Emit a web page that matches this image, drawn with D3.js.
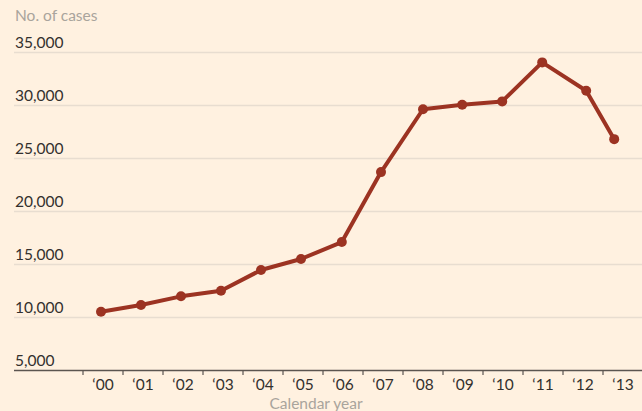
<!DOCTYPE html>
<html>
<head>
<meta charset="utf-8">
<script src="https://cdn.jsdelivr.net/npm/d3@7"></script>
<style>
  html, body { margin: 0; padding: 0; background: #fff1e0; }
  svg { display: block; font-family: Lato, "Open Sans", sans-serif; }
</style>
</head>
<body>
<svg id="chart" width="642" height="411"></svg>
<script>
// 案件數（按年份，最後兩點位置不在年中）
const years = [2000, 2001, 2002, 2003, 2004, 2005, 2006, 2007, 2008, 2009, 2010, 2011, 2012, 2013];
const yearLabels = ["‘00", "‘01", "‘02", "‘03", "‘04", "‘05", "‘06", "‘07", "‘08", "‘09", "‘10", "‘11", "‘12", "‘13"];
const pointDates = [2000.45, 2001.45, 2002.45, 2003.45, 2004.45, 2005.45, 2006.47, 2007.45, 2008.5, 2009.48, 2010.48, 2011.48, 2012.58, 2013.28];
const cases = [10500, 11130, 11950, 12480, 14430, 15470, 17070, 23670, 29600, 30020, 30340, 34020, 31340, 26780];
const yTicks = [5000, 10000, 15000, 20000, 25000, 30000, 35000];

const svg = d3.select('#chart');
const W = 642;
const left = 14, plotTop = 52, baseY = 370;
const fs = 15.5;

const x = d3.scaleLinear().domain([2000, 2014]).range([83, 643]);
const y = d3.scaleLinear().domain([5000, 35000]).range([baseY, plotTop]);

// 格線 + 左側數字
const grid = svg.append('g');
grid.selectAll('line').data(yTicks.filter((d) => d > 5000)).join('line')
  .attr('x1', left).attr('x2', W)
  .attr('y1', (d) => y(d) + 0.5).attr('y2', (d) => y(d) + 0.5)
  .attr('stroke', '#e8ddd0').attr('stroke-width', 1.5);
grid.selectAll('text').data(yTicks).join('text')
  .attr('x', 15).attr('y', (d) => y(d) - 4)
  .attr('fill', '#33302e').attr('font-size', fs)
  .text((d) => d3.format(',')(d));

// x 軸
const xAxis = svg.append('g').attr('transform', `translate(0,${baseY})`);
xAxis.append('line').attr('x1', left).attr('x2', W).attr('y1', 0.5).attr('y2', 0.5)
  .attr('stroke', '#5b5550').attr('stroke-width', 1.5);
xAxis.selectAll('line.tick').data(years.concat([2014])).join('line')
  .attr('class', 'tick')
  .attr('x1', (d) => x(d)).attr('x2', (d) => x(d))
  .attr('y1', 0).attr('y2', 5)
  .attr('stroke', '#5b5550').attr('stroke-width', 1.2);
xAxis.selectAll('text').data(years).join('text')
  .attr('x', (d) => x(d + 0.5)).attr('y', 20)
  .attr('text-anchor', 'middle').attr('fill', '#33302e').attr('font-size', fs)
  .text((d, i) => yearLabels[i]);

// 標題
svg.append('text').attr('x', 15).attr('y', 21)
  .attr('fill', '#a9a49c').attr('font-size', fs).text('No. of cases');
svg.append('text').attr('x', 316).attr('y', 409).attr('text-anchor', 'middle')
  .attr('fill', '#a9a49c').attr('font-size', fs).text('Calendar year');

// 折線 + 點
const pts = pointDates.map((d, i) => [d, cases[i]]);
svg.append('path').datum(pts)
  .attr('d', d3.line().x((d) => x(d[0])).y((d) => y(d[1])))
  .attr('fill', 'none').attr('stroke', '#9c3322').attr('stroke-width', 4)
  .attr('stroke-linejoin', 'round');
svg.append('g').selectAll('circle').data(pts).join('circle')
  .attr('cx', (d) => x(d[0])).attr('cy', (d) => y(d[1])).attr('r', 5)
  .attr('fill', '#9c3322');
</script>
</body>
</html>
